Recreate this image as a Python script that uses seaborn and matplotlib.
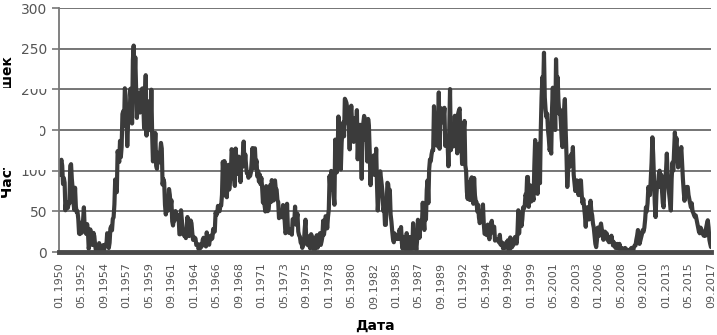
import matplotlib
matplotlib.use("Agg")
import matplotlib.pyplot as plt
import matplotlib.patches as mpatches
import seaborn as sns
import numpy as np
import pandas as pd

# monthly values, 01.1950 .. 09.2017
values_1950s = [
    101.6, 94.8, 109.7, 113.4, 106.2, 83.6, 91.0, 85.2, 51.3, 61.4, 54.8, 54.1,
    59.9, 59.9, 105.9, 108.0, 89.5, 78.0, 61.0, 52.0, 79.0, 56.0, 49.0, 50.0,
    40.7, 22.7, 22.0, 29.1, 23.4, 36.4, 39.3, 54.9, 28.2, 23.8, 22.1, 34.3,
    26.5, 3.9, 10.0, 27.8, 12.5, 21.8, 8.6, 23.5, 19.3, 8.2, 1.6, 2.5,
    0.2, 0.5, 10.9, 1.8, 0.8, 0.2, 4.8, 8.4, 1.5, 7.0, 9.2, 7.6,
    23.1, 20.8, 4.9, 11.3, 28.9, 31.7, 26.7, 40.7, 42.7, 58.5, 89.2, 76.9,
    73.6, 124.0, 118.4, 110.7, 136.6, 116.6, 129.1, 169.6, 173.2, 155.3, 201.3, 192.1,
    165.0, 130.2, 157.4, 175.2, 164.6, 200.7, 187.2, 158.0, 235.8, 253.8, 210.9, 239.4,
    202.5, 164.9, 190.7, 196.0, 175.3, 171.5, 191.4, 200.2, 201.2, 181.5, 152.3, 187.6,
    217.4, 143.1, 185.7, 163.3, 172.0, 168.7, 149.6, 199.6, 145.2, 111.4, 124.0, 125.0,
]
values_1960s = [
    146.3, 106.0, 102.2, 122.0, 119.6, 110.2, 121.7, 134.1, 127.2, 82.8, 89.6, 85.6,
    57.9, 46.1, 53.0, 61.4, 51.0, 77.4, 70.2, 55.9, 63.6, 37.7, 32.6, 40.0,
    38.7, 50.3, 45.6, 46.4, 43.7, 42.0, 21.8, 21.8, 51.3, 39.5, 26.9, 23.2,
    19.8, 24.4, 17.1, 29.3, 43.0, 35.9, 19.6, 33.2, 38.8, 35.3, 23.4, 14.9,
    15.3, 17.7, 16.5, 8.6, 9.5, 9.1, 3.1, 9.3, 4.7, 6.1, 7.4, 15.1,
    17.5, 14.2, 11.7, 6.8, 24.1, 15.9, 11.9, 8.9, 16.8, 20.1, 15.8, 17.0,
    28.2, 24.4, 25.3, 48.7, 45.3, 47.7, 56.7, 51.2, 50.2, 57.2, 57.2, 70.4,
    110.9, 93.6, 111.8, 69.5, 86.5, 67.3, 91.5, 107.2, 76.8, 88.2, 94.3, 126.4,
    121.8, 111.9, 92.2, 81.2, 127.2, 110.3, 96.1, 109.3, 117.2, 107.7, 86.0, 109.8,
    104.4, 120.5, 135.8, 106.8, 120.0, 106.0, 96.8, 98.0, 91.3, 95.7, 93.5, 97.9,
]
values_1970s = [
    111.5, 127.8, 102.9, 109.5, 127.5, 106.8, 112.5, 93.0, 99.5, 86.6, 95.2, 83.5,
    91.3, 79.0, 60.7, 71.8, 57.5, 49.8, 81.0, 61.4, 50.2, 51.7, 63.2, 82.2,
    61.5, 88.4, 80.1, 63.2, 80.5, 88.0, 76.5, 76.8, 64.0, 61.3, 41.6, 45.3,
    43.4, 42.9, 46.0, 57.7, 42.4, 39.5, 23.1, 25.6, 59.3, 30.7, 23.9, 23.3,
    27.6, 26.0, 21.3, 40.3, 39.5, 36.6, 55.8, 33.6, 40.2, 47.1, 25.0, 20.5,
    18.9, 11.5, 11.5, 5.1, 9.0, 11.4, 28.2, 39.7, 13.9, 9.1, 19.4, 7.8,
    8.1, 4.3, 21.9, 18.8, 12.4, 12.2, 1.9, 16.4, 13.5, 20.6, 5.2, 15.3,
    16.4, 23.1, 8.7, 12.9, 18.6, 38.5, 21.4, 30.1, 44.0, 43.8, 29.1, 43.2,
    51.9, 93.6, 76.5, 99.7, 82.7, 95.1, 70.4, 58.1, 138.2, 125.1, 97.9, 122.7,
    166.6, 137.5, 138.0, 101.5, 134.4, 149.5, 159.4, 142.2, 188.4, 186.2, 183.3, 176.3,
]
values_1980s = [
    159.6, 155.0, 126.2, 164.1, 179.9, 157.3, 136.3, 135.4, 155.0, 164.7, 147.9, 174.4,
    114.0, 141.3, 135.5, 156.4, 127.5, 90.0, 143.8, 158.7, 167.3, 162.4, 137.5, 150.1,
    111.2, 163.6, 153.8, 122.0, 82.2, 110.4, 106.1, 107.6, 118.8, 94.7, 98.1, 127.0,
    84.3, 51.0, 66.5, 80.7, 99.2, 91.1, 82.2, 71.8, 50.3, 55.8, 33.3, 33.4,
    57.0, 85.1, 83.5, 69.7, 76.4, 46.1, 37.4, 25.5, 15.7, 12.0, 22.8, 18.7,
    16.5, 15.9, 17.2, 16.2, 27.5, 24.2, 30.7, 11.1, 3.9, 18.6, 16.2, 17.3,
    2.5, 23.2, 15.1, 18.5, 13.7, 1.1, 18.1, 7.4, 3.8, 35.4, 15.2, 6.8,
    10.4, 2.4, 14.7, 39.6, 33.0, 17.4, 33.0, 38.7, 33.9, 60.6, 39.9, 27.1,
    59.0, 40.0, 76.2, 88.0, 60.1, 101.8, 113.8, 111.6, 120.1, 125.1, 125.1, 179.2,
    161.3, 165.1, 131.4, 130.6, 138.5, 196.2, 126.9, 168.9, 176.7, 159.4, 173.0, 165.5,
]
values_1990s = [
    177.3, 130.5, 140.3, 140.3, 132.2, 105.4, 149.4, 200.3, 125.2, 145.5, 131.4, 129.7,
    136.9, 167.5, 141.9, 140.0, 121.3, 169.7, 173.7, 176.3, 125.3, 144.1, 108.2, 144.4,
    150.0, 161.1, 106.7, 99.8, 73.8, 65.2, 85.7, 64.5, 63.9, 88.7, 91.8, 82.6,
    59.3, 91.0, 69.8, 62.2, 61.3, 49.8, 57.9, 42.4, 35.5, 40.5, 43.4, 42.6,
    58.4, 34.9, 22.4, 21.8, 23.6, 20.8, 33.7, 20.3, 15.7, 22.8, 34.5, 38.3,
    24.2, 29.9, 31.1, 14.0, 14.5, 15.6, 14.5, 14.3, 11.8, 21.1, 9.0, 10.0,
    11.5, 4.4, 9.2, 4.8, 5.5, 11.8, 8.2, 14.4, 1.6, 0.9, 17.9, 13.3,
    5.7, 7.6, 8.7, 15.5, 18.5, 12.7, 10.4, 24.4, 51.3, 22.8, 39.0, 41.2,
    31.9, 40.3, 54.8, 53.4, 56.3, 70.7, 66.6, 92.2, 92.2, 55.5, 74.0, 81.9,
    62.0, 66.3, 68.8, 63.7, 106.4, 137.7, 113.5, 93.7, 71.5, 116.7, 133.2, 84.6,
]
values_2000s = [
    150, 190, 215, 200, 245, 190, 175, 166, 170, 150, 140, 125,
    130, 121, 175, 202, 160, 190, 150, 237, 200, 215, 186, 170,
    175, 160, 140, 129, 165, 175, 188, 150, 120, 80, 100, 115,
    105, 118, 120, 110, 129, 95, 85, 75, 80, 88, 80, 70,
    75, 88, 88, 70, 60, 65, 55, 45, 31, 50, 55, 45,
    40, 55, 63, 50, 45, 35, 30, 20, 10, 6, 15, 30,
    25, 20, 30, 35, 28, 25, 15, 20, 25, 18, 23, 15,
    14, 12, 18, 15, 20, 14, 8, 12, 10, 5, 8, 10,
    5, 4, 10, 4, 3, 5, 1, 1, 3, 5, 4, 2,
    2, 2, 1, 2, 4, 5, 5, 1, 6, 8, 8, 15,
]
values_2010s = [
    20, 27, 22, 10, 14, 18, 22, 27, 25, 30, 40, 55,
    50, 60, 80, 75, 70, 90, 110, 141, 120, 90, 60, 43,
    70, 85, 80, 95, 100, 80, 95, 75, 60, 55, 80, 90,
    100, 121, 95, 80, 70, 60, 51, 90, 110, 100, 125, 147,
    130, 140, 120, 104, 118, 115, 120, 129, 110, 90, 75, 63,
    70, 75, 80, 80, 70, 65, 60, 55, 60, 50, 48, 45,
    43, 45, 40, 35, 30, 25, 23, 30, 28, 25, 22, 20,
    25, 20, 30, 35, 39, 30, 15, 10, 6,
]

tick_labels = [
    "01.1950", "05.1952", "09.1954", "01.1957", "05.1959", "09.1961",
    "01.1964", "05.1966", "09.1968", "01.1971", "05.1973", "09.1975",
    "01.1978", "05.1980", "09.1982", "01.1985", "05.1987", "09.1989",
    "01.1992", "05.1994", "09.1996", "01.1999", "05.2001", "09.2003",
    "01.2006", "05.2008", "09.2010", "01.2013", "05.2015", "09.2017",
]
tick_step = 28  # months between labels
y_ticks = [0, 50, 100, 150, 200, 250, 300]

y_label = "Частота вспышек"
x_label = "Дата"

values = (values_1950s + values_1960s + values_1970s + values_1980s
          + values_1990s + values_2000s + values_2010s)
df = pd.DataFrame({"month": np.arange(len(values)), "value": values})

sns.set_style("white")
plt.rcParams["font.family"] = ["DejaVu Sans"]
plt.rcParams["ytick.left"] = True
plt.rcParams["ytick.major.size"] = 5
plt.rcParams["ytick.major.width"] = 1.2
plt.rcParams["ytick.color"] = "#777777"
plt.rcParams["ytick.labelcolor"] = "#555555"
plt.rcParams["xtick.bottom"] = False
plt.rcParams["xtick.labelcolor"] = "#555555"

W, H = 717, 335
fig = plt.figure(figsize=(W / 100, H / 100), dpi=100)
ax = fig.add_axes([59 / W, 1 - 252 / H, 652 / W, 244 / H])

grid_color = "#777777"

# grid: thin bands plus lines, drawn before the series
for v in y_ticks[1:]:
    ax.axhspan(v - 0.9, v + 0.9, color=grid_color, linewidth=0)
    ax.axhline(v, color=grid_color, linewidth=1.4)

sns.lineplot(data=df, x="month", y="value", ax=ax, color="#3b3b3b",
             linewidth=3.0, errorbar=None)

n_months = len(values) - 1
ax.set_xlim(0, n_months)
ax.set_ylim(0, 300)

ax.set_yticks(y_ticks, labels=[str(v) for v in y_ticks], fontsize=10)
ax.set_xticks([i * tick_step for i in range(len(tick_labels))],
              labels=tick_labels, rotation=90, fontsize=8)
ax.tick_params(axis="x", pad=4)

ax.spines["top"].set_visible(False)
ax.spines["right"].set_visible(False)
ax.spines["left"].set_color(grid_color)
ax.spines["left"].set_linewidth(1.3)
ax.spines["bottom"].set_color("#4a4a4a")
ax.spines["bottom"].set_linewidth(3.5)

ax.set_xlabel("")
ax.set_ylabel("")
fig.text(8 / W, 1 - 127 / H, y_label, rotation=90, ha="center", va="center",
         fontsize=10, fontweight="bold", color="black")
fig.text(375 / W, 1 - 326 / H, x_label, ha="center", va="center",
         fontsize=10, fontweight="bold", color="black")

# white patches over parts of the left-hand labels, as in the source picture
def white_box(x0, y0, x1, y1):
    fig.add_artist(mpatches.Rectangle(
        (x0 / W, 1 - y1 / H), (x1 - x0) / W, (y1 - y0) / H,
        transform=fig.transFigure, facecolor="white", edgecolor="none",
        zorder=10))

white_box(0, 88, 17, 168)
white_box(17, 80, 47, 89)
white_box(17, 121, 40, 139)
white_box(17, 161, 47, 170)

fig.savefig("out.png", dpi=100)
